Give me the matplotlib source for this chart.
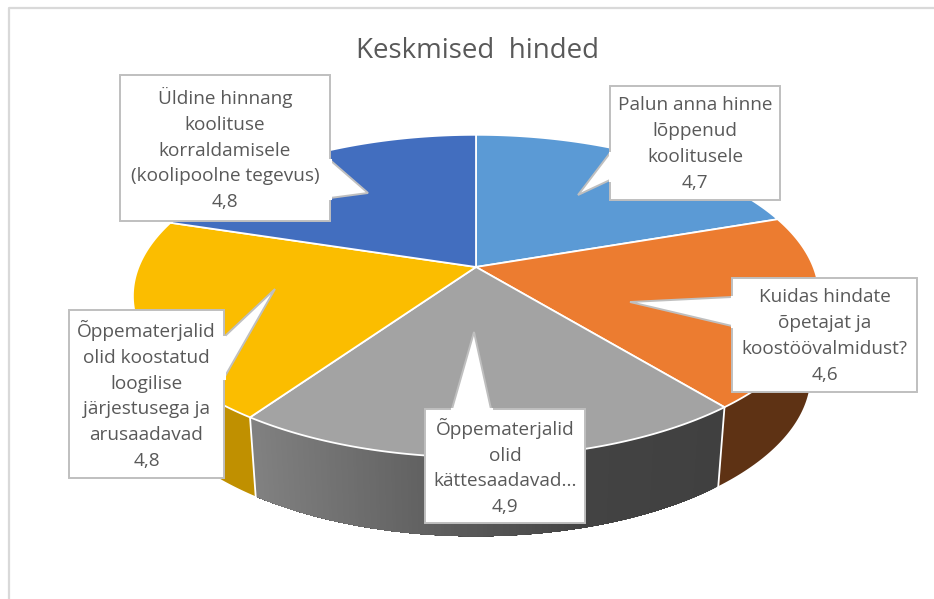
import numpy as np
import matplotlib
matplotlib.use("Agg")
import matplotlib.pyplot as plt
from matplotlib.patches import Polygon, Rectangle

categories = [
    "Palun anna hinne\nlõppenud\nkoolitusele",
    "Kuidas hindate\nõpetajat ja\nkoostöövalmidust?",
    "Õppematerjalid\nolid\nkättesaadavad...",
    "Õppematerjalid\nolid koostatud\nloogilise\njärjestusega ja\narusaadavad",
    "Üldine hinnang\nkoolituse\nkorraldamisele\n(koolipoolne tegevus)",
]
values = [4.7, 4.6, 4.9, 4.8, 4.8]
top_colors = ["#5b9ad5", "#ec7c30", "#a3a3a3", "#fbbd00", "#426ebf"]
side_colors = ["#2f5d87", "#5e3214", None, "#c09000", "#2a4a80"]

# label boxes: left, top, right, bottom, then the callout tail
boxes = [
    (610, 86, 780, 200, [(610, 153), (578, 195), (610, 180)]),
    (732, 278, 917, 392, [(732, 297), (630, 302), (732, 326)]),
    (425, 409, 585, 523, [(452, 409), (474, 332), (491, 409)]),
    (69, 310, 224, 478, [(224, 337), (275, 289), (224, 378)]),
    (120, 75, 330, 221, [(330, 160), (368, 193), (330, 198)]),
]

CX, CY = 476, 267
A, B, K = 156, 337.5, 0.18
DEPTH = 79
SHRINK = 0.975
TEXT_COLOR = "#595959"


def top_rim(theta):
    t = np.radians(theta)
    s = 1 + K * np.cos(t)
    return CX + B * np.sin(t) / s, CY - A * np.cos(t) / s


def bottom_rim(theta):
    x, y = top_rim(theta)
    return CX + SHRINK * (x - CX), y + DEPTH


def grey_side(x):
    level = np.interp(x, [257, 420, 480, 590, 720], [0x80, 0x62, 0x57, 0x43, 0x40])
    return (level / 255, level / 255, level / 255)


plt.rcParams["font.family"] = ["Open Sans", "DejaVu Sans"]
fig = plt.figure(figsize=(9.34, 5.99), dpi=100)
ax = fig.add_axes([0, 0, 1, 1])
ax.set_xlim(0, 934)
ax.set_ylim(599, 0)
ax.axis("off")

# chart frame
ax.plot([9, 9, 934], [599, 8, 8], color="#d9d9d9", lw=1.6, zorder=0)

edges = np.concatenate([[0], np.cumsum(values)]) / sum(values) * 360

# side wall
for i in range(len(values)):
    start, end = max(edges[i], 85), min(edges[i + 1], 285)
    if end <= start:
        continue
    th = np.linspace(start, end, 160)
    xt, yt = top_rim(th)
    xb, yb = bottom_rim(th)
    if side_colors[i] is None:
        # gradient: each strip runs on to the end of the wall, the next one paints over it
        for j in range(len(th) - 1):
            pts = list(zip(xt[j:], yt[j:])) + list(zip(xb[j:][::-1], yb[j:][::-1]))
            c = grey_side((xt[j] + xt[j + 1]) / 2)
            ax.add_patch(Polygon(pts, facecolor=c, edgecolor="none", zorder=1))
    else:
        pts = list(zip(xt, yt)) + list(zip(xb[::-1], yb[::-1]))
        ax.add_patch(Polygon(pts, facecolor=side_colors[i], edgecolor="none", zorder=1))

# white seams on the wall
for e in edges[1:-1]:
    if 85 < e < 285:
        xt, yt = top_rim(e)
        xb, yb = bottom_rim(e)
        ax.plot([xt, xb], [yt, yb], color="white", lw=1.3, zorder=2)

# top face
for i in range(len(values)):
    th = np.linspace(edges[i], edges[i + 1], 120)
    x, y = top_rim(th)
    pts = [(CX, CY)] + list(zip(x, y))
    ax.add_patch(Polygon(pts, facecolor=top_colors[i], edgecolor="white", lw=1.3,
                         joinstyle="round", zorder=3))

# callouts
for (l, t, r, b, tail), cat, val in zip(boxes, categories, values):
    ax.add_patch(Polygon(tail, facecolor="white", edgecolor="#bfbfbf", lw=1.4, zorder=4))
    ax.add_patch(Rectangle((l, t), r - l, b - t, facecolor="white", edgecolor="#bfbfbf",
                           lw=1.4, zorder=5))
    # hide the line where the tail joins the box
    ax.plot([tail[0][0], tail[2][0]], [tail[0][1], tail[2][1]], color="white", lw=2.2, zorder=6)
    label = cat + "\n" + f"{val:.1f}".replace(".", ",")
    ax.text((l + r) / 2, (t + b) / 2 + 1, label, ha="center", va="center", fontsize=13.7,
            color=TEXT_COLOR, linespacing=1.55, zorder=7)

ax.text(478, 51, "Keskmised  hinded", ha="center", va="center", fontsize=20,
        color=TEXT_COLOR, zorder=7)

fig.savefig("out.png", dpi=100)
plt.close(fig)
